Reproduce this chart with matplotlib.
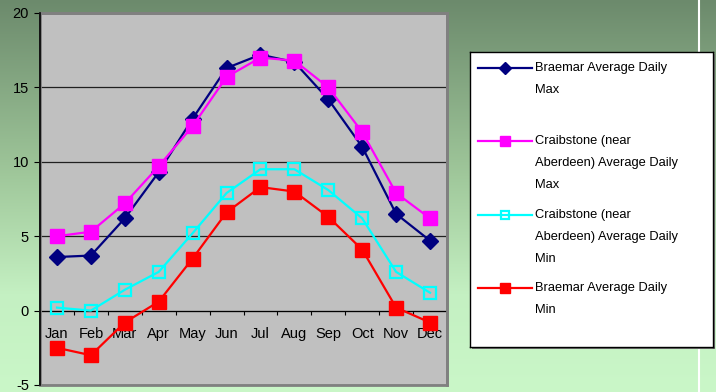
import matplotlib.pyplot as plt
import numpy as np
from matplotlib.patches import Rectangle

plt.rcParams['font.family'] = ['Liberation Sans', 'DejaVu Sans']
plt.rcParams['axes.unicode_minus'] = False

months = ["Jan", "Feb", "Mar", "Apr", "May", "Jun", "Jul", "Aug", "Sep", "Oct", "Nov", "Dec"]
braemar_max = [3.6, 3.7, 6.2, 9.3, 12.9, 16.3, 17.2, 16.7, 14.2, 11.0, 6.5, 4.7]
craibstone_max = [5.0, 5.3, 7.2, 9.7, 12.4, 15.7, 17.0, 16.8, 15.0, 12.0, 7.9, 6.2]
craibstone_min = [0.2, 0.0, 1.4, 2.6, 5.2, 7.9, 9.5, 9.5, 8.1, 6.2, 2.6, 1.2]
braemar_min = [-2.5, -3.0, -0.8, 0.6, 3.5, 6.6, 8.3, 8.0, 6.3, 4.1, 0.2, -0.8]

labels = [
    ["Braemar Average Daily", "Max"],
    ["Craibstone (near", "Aberdeen) Average Daily", "Max"],
    ["Craibstone (near", "Aberdeen) Average Daily", "Min"],
    ["Braemar Average Daily", "Min"],
]
series = [braemar_max, craibstone_max, craibstone_min, braemar_min]
styles = [
    dict(color="#000080", marker="D", mfc="#000080", mec="#000080", ms=8.5),
    dict(color="#ff00ff", marker="s", mfc="#ff00ff", mec="#ff00ff", ms=10),
    dict(color="#00ffff", marker="s", mfc="none", mec="#00ffff", ms=9, mew=1.6),
    dict(color="#ff0000", marker="s", mfc="#ff0000", mec="#ff0000", ms=10),
]

W, H = 716, 392
fig = plt.figure(figsize=(W / 100, H / 100), dpi=100)

# green gradient background
bg = fig.add_axes([0, 0, 1, 1], zorder=-10)
t = np.linspace(0, 1, 400)
stops = [0, 0.45, 0.75, 1]
cols = np.array([[108, 138, 108], [160, 200, 155], [196, 240, 194], [202, 247, 200]]) / 255
grad = np.stack([np.interp(t, stops, cols[:, i]) for i in range(3)], axis=1)
bg.imshow(grad[:, None, :], aspect="auto", extent=[0, 1, 1, 0])
bg.set_xlim(0, 1)
bg.set_ylim(1, 0)
bg.axis("off")
# thin white stripe on the right
bg.plot([699 / W, 699 / W], [0, 1], color="white", lw=1.5)

ax = fig.add_axes([40 / W, 1 - 385 / H, 407 / W, 372 / H])
ax.set_facecolor("#c0c0c0")
x = np.arange(len(months))
for vals, st in zip(series, styles):
    ax.plot(x, vals, lw=1.6, zorder=3, clip_on=False, **st)

ax.set_xlim(-0.5, 11.5)
ax.set_ylim(-5, 20)
ax.set_yticks([-5, 0, 5, 10, 15, 20])
ax.grid(axis="y", color="#202020", lw=0.9)
ax.set_axisbelow(True)

ax.set_xticks(np.arange(-0.5, 12, 1))
ax.set_xticklabels([])
ax.set_xticks(x, minor=True)
ax.set_xticklabels(months, minor=True)
ax.tick_params(axis="x", which="major", length=3, direction="out", color="black")
ax.tick_params(axis="x", which="minor", length=0, pad=12, labelsize=10.5)
ax.tick_params(axis="y", length=4, direction="out", pad=4, labelsize=10.5)

for s in ["top", "right"]:
    ax.spines[s].set_color("#808080")
    ax.spines[s].set_linewidth(2)
ax.spines["bottom"].set_position(("data", 0))
ax.spines["bottom"].set_color("black")
ax.spines["left"].set_color("black")
ax.spines["left"].set_zorder(5)
ax.add_patch(Rectangle((0, 0), 1, 1, transform=ax.transAxes, fill=False,
                       edgecolor="#808080", lw=2, zorder=4, clip_on=False))
ax.spines["left"].set_linewidth(1.2)

# legend box
lx0, ly0, lw_, lh = 470, 52, 243, 295
shadow = fig.add_axes([(lx0 + 2) / W, 1 - (ly0 + lh + 2) / H, lw_ / W, lh / H], zorder=1)
shadow.set_facecolor("#707070")
shadow.set_xticks([])
shadow.set_yticks([])
for s in shadow.spines.values():
    s.set_visible(False)
lax = fig.add_axes([lx0 / W, 1 - (ly0 + lh) / H, lw_ / W, lh / H], zorder=2)
lax.set_facecolor("white")
lax.set_xlim(0, lw_)
lax.set_ylim(lh, 0)
lax.set_xticks([])
lax.set_yticks([])
for s in lax.spines.values():
    s.set_color("black")
    s.set_linewidth(1)

for i, (lines, st) in enumerate(zip(labels, styles)):
    y0 = 16 + i * 73.3
    lax.plot([8, 62], [y0, y0], color=st["color"], lw=1.6)
    mst = dict(st)
    mst["ms"] = st["ms"] * 0.7
    mst.pop("color")
    lax.plot([35], [y0], linestyle="none", **mst)
    for k, line in enumerate(lines):
        lax.text(65, y0 + 22 * k, line, fontsize=9.3, va="center", ha="left", clip_on=True)

fig.savefig("out.png", dpi=100)
